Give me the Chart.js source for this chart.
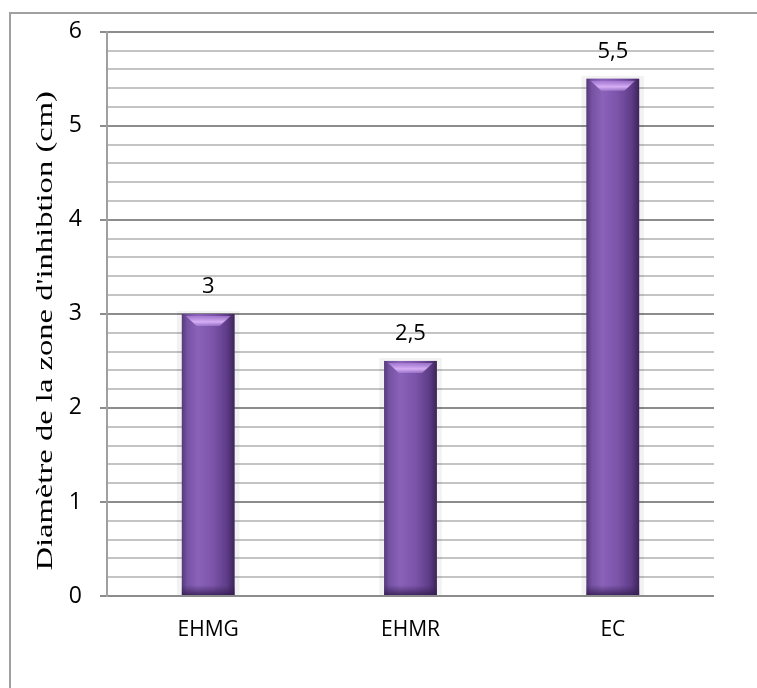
<!DOCTYPE html>
<html>
<head>
<meta charset="utf-8">
<script src="https://cdn.jsdelivr.net/npm/chart.js@4.4.0/dist/chart.umd.min.js"></script>
<style>
  html, body { margin: 0; padding: 0; background: #fff; }
  #wrap { width: 757px; height: 688px; position: relative; }
</style>
</head>
<body>
<div id="wrap"><canvas id="myChart"></canvas></div>
<script>
const categories = ['EHMG', 'EHMR', 'EC'];
const values = [3, 2.5, 5.5];
const yTitle = "Diamètre de la zone d'inhibtion (cm)";

const ctx = document.getElementById('myChart');

// frame round the whole picture (only top and left are visible)
const framePlugin = {
    id: 'frame',
    beforeDraw(chart) {
        const c = chart.ctx;
        c.save();
        c.strokeStyle = '#a0a0a0';
        c.lineWidth = 2;
        c.beginPath();
        c.moveTo(10, chart.height);
        c.lineTo(10, 13);
        c.lineTo(chart.width, 13);
        c.stroke();
        c.restore();
    }
};

// y title, a bit stretched along its length like the original
const yTitlePlugin = {
    id: 'ytitle',
    afterDraw(chart) {
        const c = chart.ctx;
        const area = chart.chartArea;
        c.save();
        c.font = '24px "Liberation Serif", serif';
        const tw = c.measureText(yTitle).width;
        const target = (area.bottom - area.top) * 0.85;
        c.translate(46, area.top + (area.bottom - area.top) * 0.53);
        c.rotate(-Math.PI / 2);
        c.scale(target / tw, 1);
        c.fillStyle = '#000';
        c.textAlign = 'center';
        c.textBaseline = 'middle';
        c.fillText(yTitle, 0, 0);
        c.restore();
    }
};

// soft halo behind bars
const haloPlugin = {
    id: 'halo',
    beforeDatasetsDraw(chart) {
        const c = chart.ctx;
        c.save();
        chart.getDatasetMeta(0).data.forEach((bar) => {
            const w = bar.width;
            c.fillStyle = 'rgba(0,0,0,0.05)';
            c.fillRect(bar.x - w / 2 - 5, bar.y - 3, w + 10, bar.base - bar.y + 3);
        });
        c.restore();
    }
};

// bevel shading on bars + value labels
const bevelPlugin = {
    id: 'bevel',
    afterDatasetsDraw(chart) {
        const c = chart.ctx;
        c.save();
        chart.getDatasetMeta(0).data.forEach((bar, i) => {
            const w = bar.width;
            const l = bar.x - w / 2;
            const h = bar.base - bar.y;
            const g = c.createLinearGradient(l, 0, l + w, 0);
            g.addColorStop(0, '#55397a');
            g.addColorStop(0.1, '#7552a2');
            g.addColorStop(0.3, '#8a62b9');
            g.addColorStop(0.6, '#7b53a9');
            g.addColorStop(0.85, '#5f3d89');
            g.addColorStop(1, '#3c2558');
            c.fillStyle = g;
            c.fillRect(l, bar.y, w, h);

            // top cap: light band with bevelled corners
            c.beginPath();
            c.moveTo(l + 4, bar.y + 2);
            c.lineTo(l + w - 4, bar.y + 2);
            c.lineTo(l + w * 0.72, bar.y + 12);
            c.lineTo(l + w * 0.28, bar.y + 12);
            c.closePath();
            const hg = c.createLinearGradient(0, bar.y + 2, 0, bar.y + 12);
            hg.addColorStop(0, 'rgba(175,130,220,0.7)');
            hg.addColorStop(0.6, 'rgba(220,180,250,0.95)');
            hg.addColorStop(1, 'rgba(200,160,240,0.4)');
            c.fillStyle = hg;
            c.fill();

            // bottom bevel
            const bg = c.createLinearGradient(0, bar.base - 10, 0, bar.base);
            bg.addColorStop(0, 'rgba(60,35,90,0)');
            bg.addColorStop(1, 'rgba(50,28,78,0.8)');
            c.fillStyle = bg;
            c.fillRect(l, bar.base - 10, w, 10);

            // value label
            c.fillStyle = '#000';
            c.font = '22px "Open Sans", sans-serif';
            c.textAlign = 'center';
            c.textBaseline = 'middle';
            c.fillText(String(values[i]).replace('.', ','), bar.x, bar.y - 27);
        });
        c.restore();
    }
};

const isMajor = (v) => Math.abs(v - Math.round(v)) < 1e-6;

new Chart(ctx, {
    type: 'bar',
    data: {
        labels: categories,
        datasets: [{
            data: values,
            backgroundColor: '#7a51a8',
            borderWidth: 0,
            barPercentage: 0.26,
            categoryPercentage: 1
        }]
    },
    options: {
        responsive: true,
        maintainAspectRatio: false,
        animation: false,
        events: [],
        layout: {
            padding: { top: 31, right: 43, left: 14, bottom: 0 }
        },
        plugins: {
            legend: { display: false },
            tooltip: { enabled: false }
        },
        scales: {
            x: {
                grid: { display: false, drawTicks: false },
                border: { display: false },
                ticks: {
                    color: '#000',
                    padding: 21,
                    font: { family: 'Open Sans', size: 21 }
                },
                afterFit: (scale) => { scale.height = 92; }
            },
            y: {
                min: 0,
                max: 6,
                ticks: {
                    stepSize: 0.2,
                    autoSkip: false,
                    color: '#000',
                    padding: 18,
                    font: { family: 'Open Sans', size: 23 },
                    callback: (v) => isMajor(v) ? Math.round(v) : ''
                },
                grid: {
                    color: (c) => isMajor(c.tick.value) ? '#8c8c8c' : '#c4c4c4',
                    lineWidth: 2,
                    tickLength: 7,
                    tickColor: (c) => isMajor(c.tick.value) ? '#8c8c8c' : 'rgba(0,0,0,0)'
                },
                border: { display: true, color: '#a0a0a0', width: 2 },
                title: { display: false },
                afterFit: (scale) => { scale.width = 93; }
            }
        }
    },
    plugins: [framePlugin, haloPlugin, bevelPlugin, yTitlePlugin]
});
</script>
</body>
</html>
